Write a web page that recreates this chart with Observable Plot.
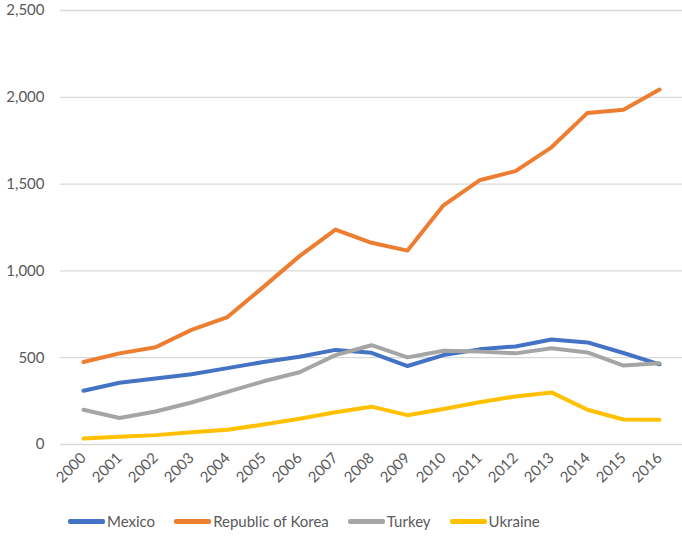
<!DOCTYPE html>
<html>
<head>
<meta charset="utf-8">
<script src="https://cdn.jsdelivr.net/npm/d3@7"></script>
<script src="https://cdn.jsdelivr.net/npm/@observablehq/plot@0.6"></script>
<style>
  html, body { margin: 0; padding: 0; background: #fff; }
  #chart { width: 682px; height: 540px; font-family: Lato, "Open Sans", sans-serif; }
  .legend { display: flex; gap: 0; padding-left: 68px; margin-top: 17px; font-size: 15px; color: #595959; align-items: center; }
  .legend .item { display: flex; align-items: center; margin-right: 19px; }
  .legend .sw { width: 37px; height: 5px; border-radius: 2px; margin-right: 2px; }
</style>
</head>
<body>
<div id="chart"></div>
<script>
const years = ["2000","2001","2002","2003","2004","2005","2006","2007","2008","2009","2010","2011","2012","2013","2014","2015","2016"];
const seriesNames = ["Mexico", "Republic of Korea", "Turkey", "Ukraine"];
const mexico = [310, 356, 380, 405, 440, 475, 505, 545, 528, 452, 515, 548, 565, 605, 588, 527, 462];
const korea = [475, 525, 560, 660, 734, 908, 1085, 1238, 1162, 1117, 1378, 1522, 1575, 1712, 1910, 1928, 2045];
const turkey = [200, 153, 190, 242, 303, 364, 416, 515, 572, 502, 540, 535, 525, 555, 530, 455, 468];
const ukraine = [34, 44, 54, 70, 85, 115, 148, 186, 218, 169, 205, 243, 277, 300, 200, 144, 142];
const yTicks = [0, 500, 1000, 1500, 2000, 2500];
const colors = ["#4472C4", "#ED7D31", "#A5A5A5", "#FFC000"];

const valuesBySeries = [mexico, korea, turkey, ukraine];
const data = [];
seriesNames.forEach((s, si) => {
  years.forEach((y, i) => data.push({series: s, year: y, value: valuesBySeries[si][i]}));
});

const plot = Plot.plot({
  width: 682,
  height: 495,
  marginLeft: 60,
  marginRight: 0,
  marginTop: 10,
  marginBottom: 51,
  style: {fontFamily: "Lato, 'Open Sans', sans-serif", fontSize: "15px", color: "#595959", background: "#fff"},
  x: {type: "point", domain: years, padding: 0.5, label: null, tickSize: 0, tickRotate: -45, tickPadding: 11},
  y: {domain: [0, 2500], ticks: yTicks, tickFormat: d3.format(","), label: null, tickSize: 0, tickPadding: 16},
  color: {domain: seriesNames, range: colors},
  marks: [
    Plot.ruleY(yTicks, {stroke: "#d9d9d9", strokeWidth: 1.3}),
    Plot.line(data, {x: "year", y: "value", z: "series", stroke: "series", strokeWidth: 4, strokeLinejoin: "round", strokeLinecap: "round"})
  ]
});
document.getElementById("chart").appendChild(plot);

const legend = document.createElement("div");
legend.className = "legend";
seriesNames.forEach((s, i) => {
  const item = document.createElement("div");
  item.className = "item";
  const sw = document.createElement("span");
  sw.className = "sw";
  sw.style.background = colors[i];
  const t = document.createElement("span");
  t.textContent = s;
  item.appendChild(sw);
  item.appendChild(t);
  legend.appendChild(item);
});
document.getElementById("chart").appendChild(legend);
</script>
</body>
</html>
